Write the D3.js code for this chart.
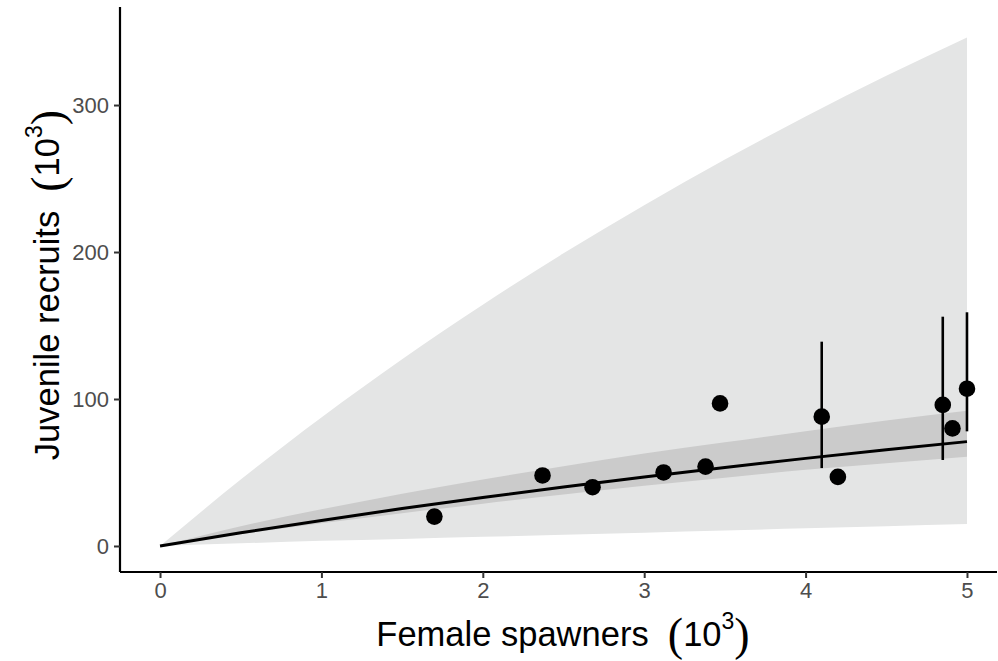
<!DOCTYPE html>
<html>
<head>
<meta charset="utf-8">
<script src="https://cdn.jsdelivr.net/npm/d3@7"></script>
<style>
  html, body { margin: 0; padding: 0; background: #fff; }
  svg { display: block; }
</style>
</head>
<body>
<svg id="chart" width="998" height="661"></svg>
<script>
// Observed spawner–recruit pairs (thousands)
const spawners = [1.70, 2.37, 2.68, 3.12, 3.38, 3.47, 4.10, 4.20, 4.85, 4.91, 5.00];
const recruits = [20, 48, 40, 50, 54, 97, 88, 47, 96, 80, 107];

// Uncertainty intervals on selected observations
const barSpawners = [4.10, 4.85, 5.00];
const barLow = [53, 58.5, 78];
const barHigh = [139, 156, 159];

// Fitted stock–recruitment curve with its credible and predictive bands
const curveS = [0, 0.5, 1, 1.5, 2, 2.5, 3, 3.5, 4, 4.5, 5];
const fitR = [0, 9.0, 17.4, 25.5, 33.0, 40.2, 47.0, 53.4, 59.6, 65.4, 71.0];
const innerLo = [0, 8.0, 15.4, 22.3, 28.8, 35.0, 40.9, 46.4, 51.8, 56.3, 60.7];
const innerHi = [0, 13.5, 25.0, 35.6, 45.2, 54.3, 63.0, 70.5, 78.0, 85.3, 92.0];
const outerLo = [0, 1.8, 3.5, 4.8, 6.2, 7.6, 9.0, 10.5, 12.0, 13.5, 15.0];
const outerHi = [0, 45.2, 87.5, 127.1, 164.2, 199.1, 231.9, 262.9, 292.2, 319.9, 346];

const xTicks = [0, 1, 2, 3, 4, 5];
const yTicks = [0, 100, 200, 300];

const svg = d3.select("#chart");
const mLeft = 120, mRight = 997, mTop = 7, mBottom = 572;

const x = d3.scaleLinear().domain([-0.248, 5.186]).range([mLeft, mRight]);
const y = d3.scaleLinear().domain([-17.7, 366.7]).range([mBottom, mTop]);

const curveData = curveS.map((s, i) => ({
  s, fit: fitR[i], ilo: innerLo[i], ihi: innerHi[i], olo: outerLo[i], ohi: outerHi[i]
}));

const plot = svg.append("g");
const smooth = d3.curveNatural;

// Predictive band
plot.append("path")
  .datum(curveData)
  .attr("fill", "#e4e5e5")
  .attr("d", d3.area().curve(smooth)
    .x(d => x(d.s)).y0(d => y(d.olo)).y1(d => y(d.ohi)));

// Credible band
plot.append("path")
  .datum(curveData)
  .attr("fill", "#cbcbcb")
  .attr("d", d3.area().curve(smooth)
    .x(d => x(d.s)).y0(d => y(d.ilo)).y1(d => y(d.ihi)));

// Fitted curve
plot.append("path")
  .datum(curveData)
  .attr("fill", "none")
  .attr("stroke", "#000")
  .attr("stroke-width", 3)
  .attr("d", d3.line().curve(smooth)
    .x(d => x(d.s)).y(d => y(d.fit)));

// Interval bars
plot.selectAll("line.err")
  .data(barSpawners.map((s, i) => ({ s, lo: barLow[i], hi: barHigh[i] })))
  .join("line")
  .attr("class", "err")
  .attr("x1", d => x(d.s)).attr("x2", d => x(d.s))
  .attr("y1", d => y(d.lo)).attr("y2", d => y(d.hi))
  .attr("stroke", "#000")
  .attr("stroke-width", 2.6);

// Observations
plot.selectAll("circle.obs")
  .data(spawners.map((s, i) => ({ s, r: recruits[i] })))
  .join("circle")
  .attr("class", "obs")
  .attr("cx", d => x(d.s))
  .attr("cy", d => y(d.r))
  .attr("r", 8.3)
  .attr("fill", "#000");

// Axes
const xAxis = svg.append("g")
  .attr("transform", `translate(0,${mBottom})`)
  .call(d3.axisBottom(x).tickValues(xTicks).tickSize(6).tickPadding(4).tickFormat(d3.format("d")));
const yAxis = svg.append("g")
  .attr("transform", `translate(${mLeft},0)`)
  .call(d3.axisLeft(y).tickValues(yTicks).tickSize(6).tickPadding(5).tickFormat(d3.format("d")));

[xAxis, yAxis].forEach(g => {
  g.select(".domain").attr("stroke", "#000").attr("stroke-width", 2.2);
  g.selectAll(".tick line").attr("stroke", "#333").attr("stroke-width", 2);
  g.selectAll(".tick text")
    .attr("fill", "#4d4d4d")
    .style("font-family", "'Liberation Sans', Arial, sans-serif")
    .style("font-size", "22px");
});
xAxis.select(".domain").attr("d", `M${mLeft},0H${mRight}`);
yAxis.select(".domain").attr("d", `M0,${mTop}V${mBottom}`);

// Axis titles with a power-of-ten unit
function unitTitle(g, label) {
  const t = g.append("text")
    .attr("text-anchor", "middle")
    .style("font-family", "'Liberation Sans', Arial, sans-serif")
    .style("font-size", "34.5px")
    .attr("fill", "#000");
  t.append("tspan").text(label + "\u00a0\u00a0");
  t.append("tspan").style("font-family", "'Liberation Serif', 'Times New Roman', serif")
    .style("font-size", "46px").attr("dy", 4).text("(");
  t.append("tspan").attr("dy", -4).text("10");
  t.append("tspan").style("font-size", "23px").attr("dy", -17).text("3");
  t.append("tspan").style("font-family", "'Liberation Serif', 'Times New Roman', serif")
    .style("font-size", "46px").attr("dy", 21).text(")");
  return t;
}

unitTitle(svg.append("g").attr("transform", "translate(563,646)"), "Female spawners");
unitTitle(svg.append("g").attr("transform", "translate(59,285) rotate(-90)"), "Juvenile recruits");
</script>
</body>
</html>
